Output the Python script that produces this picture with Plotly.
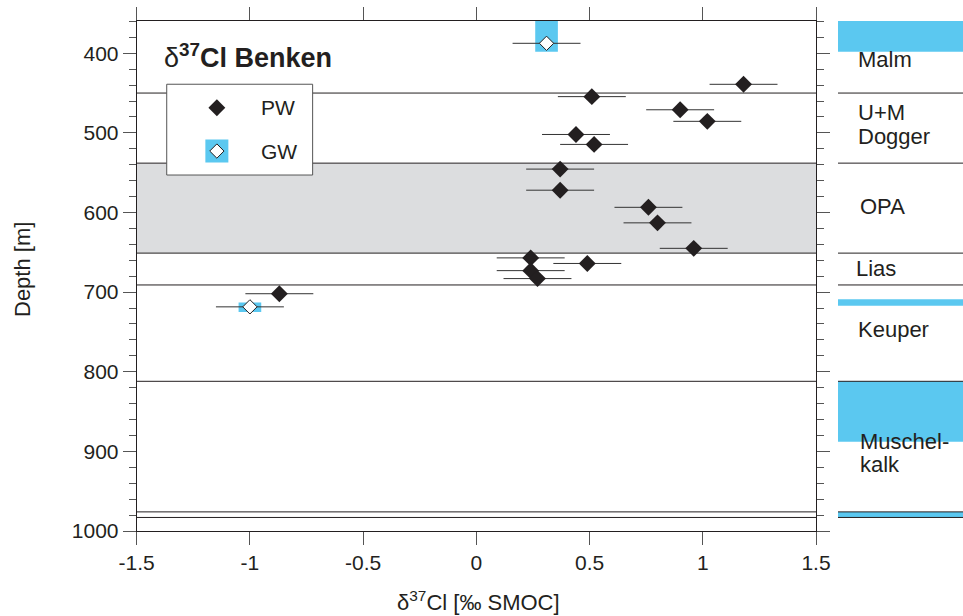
import plotly.graph_objects as go

# ---------------- data ----------------
pw_d37cl = [1.18, 0.51, 0.90, 1.02, 0.44, 0.52, 0.37, 0.37, 0.76, 0.80, 0.96, 0.24, 0.49, 0.24, 0.27, -0.87]
pw_depth = [439, 454.5, 471, 485.5, 502, 514.5, 545.5, 572, 593.5, 613, 645, 657, 664, 673, 683, 702]
pw_err = [0.15, 0.15, 0.15, 0.15, 0.15, 0.15, 0.15, 0.15, 0.15, 0.15, 0.15, 0.15, 0.15, 0.15, 0.15, 0.15]

gw_d37cl = [0.31, -1.00]
gw_depth = [387.5, 718.5]
gw_err = [0.15, 0.15]
gw_top = [359.5, 713]
gw_bottom = [398, 725]

boundary_depths = [450, 538, 651, 691, 812, 976, 983]
opa_top, opa_base = 538, 651
aquifer_top = [359.5, 709, 812, 976]
aquifer_base = [398, 717, 888, 983]

unit_labels = ["Malm", "U+M", "Dogger", "OPA", "Lias", "Keuper", "Muschel-", "kalk"]
unit_label_depth = [408, 475, 504, 593, 670, 747.5, 888, 917]
unit_label_x = [0.144, 0.144, 0.144, 0.16, 0.128, 0.144, 0.16, 0.16]

x_ticks = [-1.5, -1.0, -0.5, 0.0, 0.5, 1.0, 1.5]
x_tick_labels = ["-1.5", "-1", "-0.5", "0", "0.5", "1", "1.5"]
y_ticks = [400, 500, 600, 700, 800, 900, 1000]
y_tick_labels = ["400", "500", "600", "700", "800", "900", "1000"]

# ---------------- style ----------------
X_MIN, X_MAX = -1.5, 1.5
Y_TOP, Y_BOT = 359.5, 1000
INK = "#231f20"
BLUE = "#5bc8f0"
GREY = "#dcdddf"
FONT = "Liberation Sans"
W, H = 963, 616
x_dom = [136.7 / W, 816 / W]
y_dom = [(H - 531) / H, (H - 21) / H]
x2_dom = [838 / W, 1.0]

def xf(f):
    return X_MIN + f * (X_MAX - X_MIN)

def yf(f):
    return Y_TOP + f * (Y_BOT - Y_TOP)

fig = go.Figure()

# main data
fig.add_trace(go.Scatter(
    x=pw_d37cl, y=pw_depth, mode="markers",
    error_x=dict(type="data", array=pw_err, color="#333333", thickness=1, width=0),
    marker=dict(symbol="diamond", size=13, color=INK, line=dict(width=0)),
    showlegend=False, hoverinfo="skip"))
fig.add_trace(go.Scatter(
    x=gw_d37cl, y=gw_depth, mode="markers",
    error_x=dict(type="data", array=gw_err, color="#333333", thickness=1, width=0),
    marker=dict(symbol="diamond", size=11, color="white", line=dict(width=1, color=INK)),
    showlegend=False, hoverinfo="skip"))

# legend symbols (custom legend)
fig.add_trace(go.Scatter(
    x=[xf(0.118)], y=[yf(0.170)], mode="markers",
    marker=dict(symbol="diamond", size=13, color=INK),
    showlegend=False, hoverinfo="skip"))
fig.add_trace(go.Scatter(
    x=[xf(0.118)], y=[yf(0.255)], mode="markers",
    marker=dict(symbol="square", size=23, color=BLUE),
    showlegend=False, hoverinfo="skip"))
fig.add_trace(go.Scatter(
    x=[xf(0.118)], y=[yf(0.255)], mode="markers",
    marker=dict(symbol="diamond", size=11, color="white", line=dict(width=1, color=INK)),
    showlegend=False, hoverinfo="skip"))

# dummy trace for right panel subplot
fig.add_trace(go.Scatter(x=[0.5], y=[500], xaxis="x2", yaxis="y2", mode="markers",
                         marker=dict(opacity=0), showlegend=False, hoverinfo="skip"))

shapes = []
# OPA grey band
shapes.append(dict(type="rect", xref="x", yref="y", x0=X_MIN, x1=X_MAX, y0=opa_top, y1=opa_base,
                   fillcolor=GREY, line=dict(width=0), layer="below"))
# boundaries in main plot
for d in boundary_depths:
    shapes.append(dict(type="line", xref="x", yref="y", x0=X_MIN, x1=X_MAX, y0=d, y1=d,
                       line=dict(color=INK, width=1), layer="below"))
# GW sampling intervals
for v, t, b in zip(gw_d37cl, gw_top, gw_bottom):
    shapes.append(dict(type="rect", xref="x", yref="y", x0=v - 0.05, x1=v + 0.05, y0=t, y1=b,
                       fillcolor=BLUE, line=dict(width=0), layer="below"))
# legend box
shapes.append(dict(type="rect", xref="x", yref="y", x0=xf(0.0442), x1=xf(0.259),
                   y0=yf(0.124), y1=yf(0.302), fillcolor="white",
                   line=dict(color="#555555", width=1), layer="below"))
# right panel: aquifer bands
for t, b in zip(aquifer_top, aquifer_base):
    shapes.append(dict(type="rect", xref="x2", yref="y2", x0=0, x1=1, y0=t, y1=b,
                       fillcolor=BLUE, line=dict(width=0), layer="below"))
for d in boundary_depths:
    shapes.append(dict(type="line", xref="x2", yref="y2", x0=0, x1=1, y0=d, y1=d,
                       line=dict(color=INK, width=1), layer="below"))

annotations = []
for name, d, xx in zip(unit_labels, unit_label_depth, unit_label_x):
    annotations.append(dict(text=name, xref="x2", yref="y2", x=xx, y=d, xanchor="left",
                            yanchor="middle", showarrow=False,
                            font=dict(family=FONT, size=22, color=INK)))
# legend texts
annotations.append(dict(text="PW", xref="x domain", yref="y domain", x=0.180, y=1 - 0.170,
                        xanchor="left", yanchor="middle", showarrow=False,
                        font=dict(family=FONT, size=21, color=INK)))
annotations.append(dict(text="GW", xref="x domain", yref="y domain", x=0.180, y=1 - 0.255,
                        xanchor="left", yanchor="middle", showarrow=False,
                        font=dict(family=FONT, size=21, color=INK)))
# title
annotations.append(dict(text="δ<b><sup>37</sup>Cl Benken</b>", xref="paper", yref="paper",
                        x=162 / W, y=(H - 56) / H, xanchor="left", yanchor="middle",
                        showarrow=False, font=dict(family=FONT, size=27, color=INK)))
# axis titles
annotations.append(dict(text="Depth [m]", xref="paper", yref="paper", x=22 / W, y=(H - 270) / H,
                        textangle=-90, xanchor="center", yanchor="middle", showarrow=False,
                        font=dict(family=FONT, size=22, color=INK)))
annotations.append(dict(text="δ<sup>37</sup>Cl [‰ SMOC]", xref="paper", yref="paper",
                        x=478 / W, y=(H - 601) / H, xanchor="center", yanchor="middle",
                        showarrow=False, font=dict(family=FONT, size=22, color=INK)))

fig.update_layout(
    width=W, height=H, autosize=False,
    margin=dict(l=0, r=0, t=0, b=0, pad=0, autoexpand=False),
    paper_bgcolor="white", plot_bgcolor="white",
    showlegend=False,
    font=dict(family=FONT, size=21, color=INK),
    shapes=shapes, annotations=annotations,
    xaxis=dict(domain=x_dom, range=[X_MIN, X_MAX], tickvals=x_ticks, ticktext=x_tick_labels,
               ticks="outside", ticklen=13, tickcolor="#555555", tickwidth=1,
               showline=True, linecolor=INK, linewidth=1, mirror="ticks",
               showgrid=False, zeroline=False, tickfont=dict(family=FONT, size=21, color=INK),
               anchor="y", automargin=False),
    yaxis=dict(domain=y_dom, range=[Y_BOT, Y_TOP], tickvals=y_ticks, ticktext=y_tick_labels,
               ticks="outside", ticklen=13, tickcolor="#555555", tickwidth=1,
               minor=dict(dtick=20, tick0=0, ticks="outside", ticklen=7, tickcolor="#555555",
                          showgrid=False),
               showline=True, linecolor=INK, linewidth=1, mirror="ticks",
               showgrid=False, zeroline=False, tickfont=dict(family=FONT, size=21, color=INK),
               anchor="x", automargin=False),
    xaxis2=dict(domain=x2_dom, range=[0, 1], visible=False, anchor="y2", automargin=False),
    yaxis2=dict(domain=y_dom, range=[Y_BOT, Y_TOP], visible=False, anchor="x2", automargin=False),
)

fig.write_html("out.html")
